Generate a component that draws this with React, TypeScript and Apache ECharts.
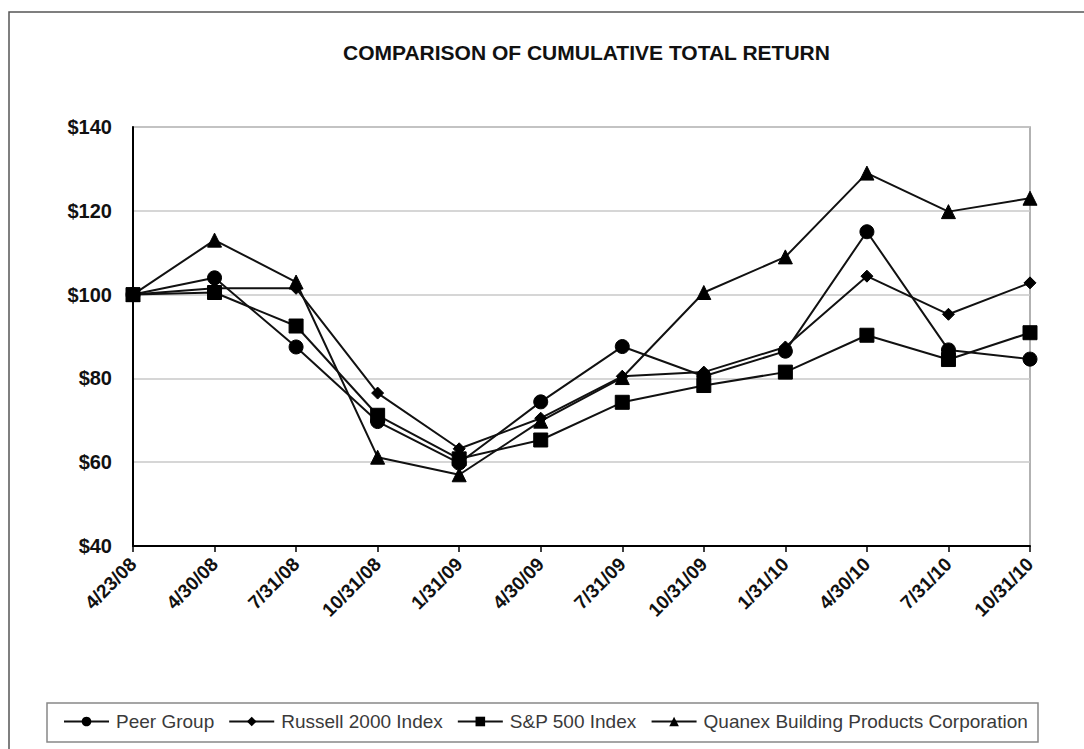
import React, { useEffect, useRef } from "react";
import * as echarts from "echarts";

const categories = ["4/23/08", "4/30/08", "7/31/08", "10/31/08", "1/31/09", "4/30/09", "7/31/09", "10/31/09", "1/31/10", "4/30/10", "7/31/10", "10/31/10"];
const peerGroup = [100, 104, 87.5, 69.7, 59.8, 74.4, 87.6, 80.5, 86.5, 115, 86.8, 84.6];
const russell2000 = [100, 101.5, 101.5, 76.5, 63.2, 70.5, 80.5, 81.5, 87.5, 104.4, 95.3, 102.8];
const sp500 = [100, 100.5, 92.5, 71.2, 60.8, 65.3, 74.3, 78.3, 81.5, 90.3, 84.5, 90.9];
const quanex = [100, 113, 103, 61.2, 57, 69.8, 80.2, 100.5, 109, 129, 119.8, 123];
const yTicks = [40, 60, 80, 100, 120, 140];

const FONT = "'Liberation Sans', Arial, sans-serif";

export default function App() {
  const ref = useRef<HTMLDivElement>(null);
  useEffect(() => {
    if (!ref.current) return;
    const chart = echarts.init(ref.current, undefined, { renderer: "svg" });
    const mk = (name: string, data: number[], symbol: string, size: number) => ({
      name,
      type: "line",
      data,
      symbol,
      symbolSize: size,
      showAllSymbol: true,
      lineStyle: { color: "#111", width: 2 },
      itemStyle: { color: "#000", borderColor: "#000" },
      emphasis: { disabled: true },
    });
    chart.setOption({
      animation: false,
      backgroundColor: "#fff",
      textStyle: { fontFamily: FONT },
      title: {
        text: "COMPARISON OF CUMULATIVE TOTAL RETURN",
        left: 343,
        top: 42,
        padding: 0,
        textStyle: { fontFamily: FONT, fontSize: 21, fontWeight: "bold", color: "#111" },
      },
      graphic: [
        { type: "rect", shape: { x: 9, y: 12, width: 1200, height: 900 }, style: { fill: "none", stroke: "#555", lineWidth: 1.5 }, silent: true },
        { type: "rect", shape: { x: 47, y: 703, width: 991, height: 39 }, style: { fill: "none", stroke: "#888", lineWidth: 1.5 }, silent: true },
      ],
      legend: {
        left: 63,
        top: 712,
        itemWidth: 45,
        itemHeight: 12,
        itemGap: 14,
        padding: 0,
        textStyle: { fontFamily: FONT, fontSize: 19, color: "#3a3a3a", padding: [0, 0, 0, 2] },
        data: ["Peer Group", "Russell 2000 Index", "S&P 500 Index", "Quanex Building Products Corporation"],
      },
      grid: {
        left: 133,
        right: 54,
        top: 127,
        bottom: 203,
        show: true,
        borderColor: "#999",
        borderWidth: 1.5,
        containLabel: false,
      },
      xAxis: {
        type: "category",
        data: categories,
        boundaryGap: false,
        axisLine: { lineStyle: { color: "#000", width: 2 } },
        axisTick: { show: true, length: 6, lineStyle: { color: "#000", width: 1.5 }, alignWithLabel: true },
        axisLabel: { rotate: 45, margin: 15, interval: 0, fontFamily: FONT, fontSize: 19, fontWeight: "bold", color: "#111" },
      },
      yAxis: {
        type: "value",
        min: yTicks[0],
        max: yTicks[yTicks.length - 1],
        interval: 20,
        axisLine: { show: true, lineStyle: { color: "#000", width: 2 } },
        axisTick: { show: false },
        splitLine: { lineStyle: { color: "#c8c8c8", width: 1.5 } },
        axisLabel: { margin: 21, fontFamily: FONT, fontSize: 20, fontWeight: "bold", color: "#111", formatter: (v: number) => "$" + v },
      },
      series: [
        mk("Peer Group", peerGroup, "circle", 14),
        mk("Russell 2000 Index", russell2000, "diamond", 12),
        mk("S&P 500 Index", sp500, "rect", 14),
        mk("Quanex Building Products Corporation", quanex, "triangle", 14),
      ],
    });
    return () => chart.dispose();
  }, []);
  return <div ref={ref} style={{ position: "fixed", left: 0, top: 0, width: 1084, height: 749 }} />;
}
